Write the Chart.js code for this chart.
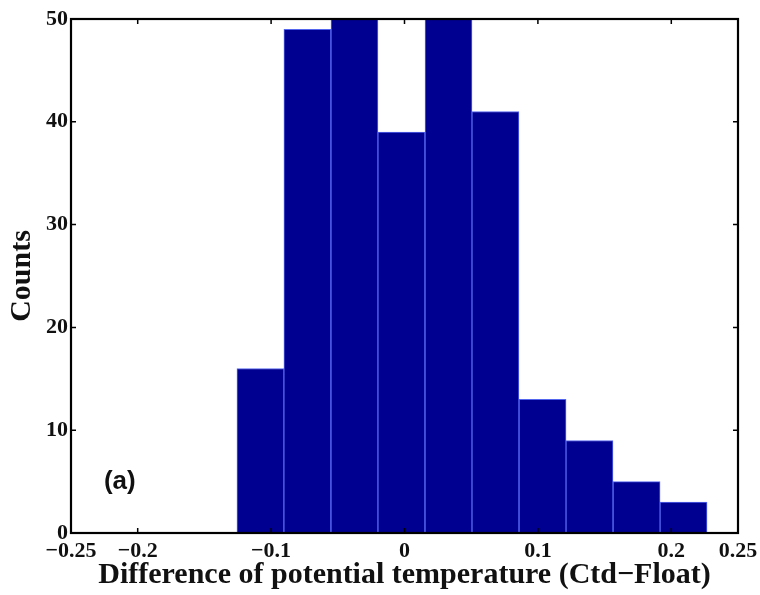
<!DOCTYPE html>
<html>
<head>
<meta charset="utf-8">
<script src="https://cdn.jsdelivr.net/npm/chart.js@4.4.1/dist/chart.umd.min.js"></script>
<style>
  html, body { margin: 0; padding: 0; background: #fff; }
  #wrap { width: 760px; height: 595px; }
</style>
</head>
<body>
<div id="wrap"><canvas id="hist"></canvas></div>
<script>
// histogram bin centres (10 bins between min and max of the differences)
var binCenters = [-0.1080, -0.0728, -0.0375, -0.0023, 0.0330, 0.0682, 0.1035, 0.1387, 0.1740, 0.2092];
// counts - bins 3 and 5 run off the top of the axis (clipped at 50)
var counts = [16, 49, 55, 39, 53, 41, 13, 9, 5, 3];
var xTicks = [-0.25, -0.2, -0.1, 0, 0.1, 0.2, 0.25];
var yTicks = [0, 10, 20, 30, 40, 50];

var serif = "'Liberation Serif', 'Times New Roman', serif";

var points = [];
for (var i = 0; i < binCenters.length; i++) {
    points.push({x: binCenters[i], y: counts[i]});
}

// box round the plot + matlab style inward ticks
var framePlugin = {
    id: 'frame',
    afterDraw: function(chart) {
        var ctx = chart.ctx;
        var a = chart.chartArea;
        var xs = chart.scales.x, ys = chart.scales.y;
        var len = 5;
        ctx.save();
        ctx.strokeStyle = '#000';
        ctx.lineWidth = 1.5;
        ctx.beginPath();
        xs.ticks.forEach(function(t) {
            var px = xs.getPixelForValue(t.value);
            ctx.moveTo(px, a.bottom); ctx.lineTo(px, a.bottom - len);
            ctx.moveTo(px, a.top); ctx.lineTo(px, a.top + len);
        });
        ys.ticks.forEach(function(t) {
            var py = ys.getPixelForValue(t.value);
            ctx.moveTo(a.left, py); ctx.lineTo(a.left + len, py);
            ctx.moveTo(a.right, py); ctx.lineTo(a.right - len, py);
        });
        ctx.stroke();
        ctx.lineWidth = 2.2;
        ctx.strokeRect(a.left, a.top, a.right - a.left, a.bottom - a.top);
        // panel letter
        ctx.fillStyle = '#111';
        ctx.font = "bold 26px 'Liberation Sans', Arial, sans-serif";
        ctx.textAlign = 'center';
        ctx.textBaseline = 'middle';
        ctx.fillText('(a)', xs.getPixelForValue(-0.2134), ys.getPixelForValue(5.0));
        ctx.restore();
    }
};

function fmt(v) {
    if (v < 0) return '\u2212' + String(Math.abs(v));
    return String(v);
}

var ctx = document.getElementById('hist').getContext('2d');
var histChart = new Chart(ctx, {
    type: 'bar',
    data: {
        datasets: [{
            data: points,
            backgroundColor: '#000090',
            borderColor: '#5566ee',
            borderWidth: {left: 1, top: 1, right: 1, bottom: 0},
            borderSkipped: false,
            barPercentage: 1,
            categoryPercentage: 1,
            clip: 0
        }]
    },
    options: {
        responsive: true,
        maintainAspectRatio: false,
        animation: false,
        layout: {padding: {top: 19, right: 22, left: 0, bottom: 0}},
        plugins: {legend: {display: false}, tooltip: {enabled: false}},
        scales: {
            x: {
                type: 'linear',
                min: -0.25,
                max: 0.25,
                offset: false,
                grid: {display: false, drawTicks: false},
                border: {display: false},
                afterBuildTicks: function(axis) {
                    axis.ticks = xTicks.map(function(v) { return {value: v}; });
                },
                afterFit: function(axis) {
                    axis.height = 62;
                    axis.paddingLeft = 0;
                    axis.paddingRight = 0;
                },
                ticks: {
                    autoSkip: false,
                    maxRotation: 0,
                    padding: 5,
                    color: '#111',
                    font: {family: serif, size: 22, weight: 'bold'},
                    callback: function(v) { return fmt(v); }
                },
                title: {
                    display: true,
                    text: 'Difference of potential temperature (Ctd\u2212Float)',
                    color: '#111',
                    font: {family: serif, size: 30, weight: 'bold'},
                    padding: {top: 0, bottom: 2}
                }
            },
            y: {
                min: 0,
                max: 50,
                grid: {display: false, drawTicks: false},
                border: {display: false},
                afterBuildTicks: function(axis) {
                    axis.ticks = yTicks.map(function(v) { return {value: v}; });
                },
                afterFit: function(axis) { axis.width = 71; },
                ticks: {
                    padding: 3,
                    color: '#111',
                    font: {family: serif, size: 22, weight: 'bold'}
                },
                title: {
                    display: true,
                    text: 'Counts',
                    color: '#111',
                    font: {family: serif, size: 30, weight: 'bold'},
                    padding: {top: 4, bottom: 0}
                }
            }
        }
    },
    plugins: [framePlugin]
});
</script>
</body>
</html>
